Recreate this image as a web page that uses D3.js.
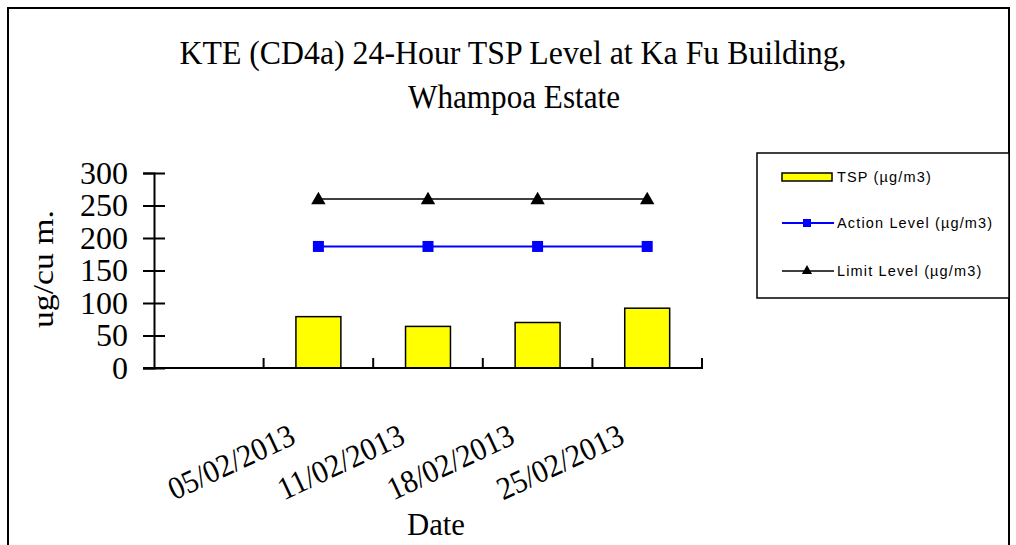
<!DOCTYPE html>
<html>
<head>
<meta charset="utf-8">
<script src="https://cdn.jsdelivr.net/npm/d3@7"></script>
<style>
  body { margin: 0; background: #fff; }
  svg { display: block; }
</style>
</head>
<body>
<script>

// DATA
//
var categories = ["", "05/02/2013", "11/02/2013", "18/02/2013", "25/02/2013"];
var tspValues = [null, 79, 64, 70, 92];
var actionLevel = [null, 187, 187, 187, 187];
var limitLevel = [null, 260, 260, 260, 260];
var yTicks = [0, 50, 100, 150, 200, 250, 300];

var titleLines = ["KTE (CD4a) 24-Hour TSP Level at Ka Fu Building,", "Whampoa Estate"];
var legendLabels = ["TSP (\u00b5g/m3)", "Action Level (\u00b5g/m3)", "Limit Level (\u00b5g/m3)"];

var width = 1016;
var height = 545;
var serif = "'Liberation Serif', 'Times New Roman', serif";
var sans = "'Liberation Sans', Arial, sans-serif";

var svg = d3.select("body").append("svg")
  .attr("width", width)
  .attr("height", height);

// OUTER FRAME
//
svg.append("rect")
  .attr("x", 8).attr("y", 8)
  .attr("width", 1001).attr("height", 560)
  .attr("fill", "#fff")
  .attr("stroke", "#000")
  .attr("stroke-width", 2);

// SCALES
//
var x = d3.scaleBand()
  .domain(categories)
  .range([154, 702])
  .padding(0);

var y = d3.scaleLinear()
  .domain([0, 300])
  .range([368, 173]);

function cx(d) { return x(d) + x.bandwidth() / 2; }

// TITLE (narrow, tall glyphs like the original)
//
svg.append("text")
  .attr("x", 513).attr("y", 64)
  .attr("text-anchor", "middle")
  .attr("font-family", serif)
  .attr("font-size", 34)
  .attr("textLength", 667)
  .attr("lengthAdjust", "spacingAndGlyphs")
  .text(titleLines[0]);

svg.append("text")
  .attr("x", 514).attr("y", 108)
  .attr("text-anchor", "middle")
  .attr("font-family", serif)
  .attr("font-size", 34)
  .attr("textLength", 212)
  .attr("lengthAdjust", "spacingAndGlyphs")
  .text(titleLines[1]);

// BARS
//
var barW = x.bandwidth() * 0.41;
var barData = categories.map(function(c, i) { return { cat: c, v: tspValues[i] }; })
  .filter(function(d) { return d.v != null; });

svg.selectAll(".bar").data(barData).enter().append("rect")
  .attr("class", "bar")
  .attr("x", function(d) { return cx(d.cat) - barW / 2; })
  .attr("y", function(d) { return y(d.v); })
  .attr("width", barW)
  .attr("height", function(d) { return y(0) - y(d.v); })
  .attr("fill", "#ffff00")
  .attr("stroke", "#000")
  .attr("stroke-width", 1.5);

// Y AXIS (ticks cross the axis line)
//
var yAxis = svg.append("g")
  .attr("transform", "translate(154,0)")
  .call(d3.axisLeft(y).tickValues(yTicks).tickSizeOuter(0).tickSize(11).tickPadding(15));

yAxis.select(".domain").attr("stroke-width", 2);
yAxis.selectAll(".tick line").attr("x1", 11).attr("stroke-width", 2);
yAxis.selectAll(".tick text")
  .attr("font-family", serif)
  .attr("font-size", 32)
  .attr("fill", "#000");

// X AXIS
//
svg.append("line")
  .attr("x1", 143).attr("x2", 703)
  .attr("y1", y(0)).attr("y2", y(0))
  .attr("stroke", "#000")
  .attr("stroke-width", 2);

var bounds = categories.map(function(c) { return x(c); }).concat([x.range()[1]]);
svg.selectAll(".xtick").data(bounds.slice(1)).enter().append("line")
  .attr("class", "xtick")
  .attr("x1", function(d) { return d; })
  .attr("x2", function(d) { return d; })
  .attr("y1", y(0))
  .attr("y2", y(0) - 10)
  .attr("stroke", "#000")
  .attr("stroke-width", 2);

svg.selectAll(".xlabel").data(categories.filter(function(c) { return c !== ""; })).enter().append("text")
  .attr("class", "xlabel")
  .attr("transform", function(d) { return "translate(" + (cx(d) - 21) + ",443) rotate(-25)"; })
  .attr("text-anchor", "end")
  .attr("font-family", serif)
  .attr("font-size", 32)
  .attr("textLength", 136)
  .attr("lengthAdjust", "spacingAndGlyphs")
  .text(function(d) { return d; });

// AXIS TITLES
//
svg.append("text")
  .attr("x", 436).attr("y", 535)
  .attr("text-anchor", "middle")
  .attr("font-family", serif)
  .attr("font-size", 31)
  .attr("textLength", 58)
  .attr("lengthAdjust", "spacingAndGlyphs")
  .text("Date");

svg.append("text")
  .attr("transform", "translate(53,269) rotate(-90)")
  .attr("text-anchor", "middle")
  .attr("font-family", serif)
  .attr("font-size", 30)
  .attr("textLength", 118)
  .attr("lengthAdjust", "spacingAndGlyphs")
  .text("ug/cu m.");

// LINES + MARKERS
//
function series(vals) {
  return categories.map(function(c, i) { return { cat: c, v: vals[i] }; })
    .filter(function(d) { return d.v != null; });
}

var line = d3.line()
  .x(function(d) { return cx(d.cat); })
  .y(function(d) { return y(d.v); });

var actionData = series(actionLevel);
var limitData = series(limitLevel);

svg.append("path")
  .datum(actionData)
  .attr("d", line)
  .attr("fill", "none")
  .attr("stroke", "#0000ff")
  .attr("stroke-width", 2);

svg.selectAll(".sq").data(actionData).enter().append("rect")
  .attr("class", "sq")
  .attr("x", function(d) { return cx(d.cat) - 5.5; })
  .attr("y", function(d) { return y(d.v) - 5.5; })
  .attr("width", 11).attr("height", 11)
  .attr("fill", "#0000ff");

svg.append("path")
  .datum(limitData)
  .attr("d", line)
  .attr("fill", "none")
  .attr("stroke", "#000")
  .attr("stroke-width", 1.5);

var tri = d3.symbol().type(d3.symbolTriangle).size(90);
svg.selectAll(".tri").data(limitData).enter().append("path")
  .attr("class", "tri")
  .attr("d", tri)
  .attr("transform", function(d) { return "translate(" + cx(d.cat) + "," + (y(d.v) + 1) + ")"; })
  .attr("fill", "#000");

// LEGEND
//
var legend = svg.append("g");
legend.append("rect")
  .attr("x", 757).attr("y", 153)
  .attr("width", 252).attr("height", 145)
  .attr("fill", "#fff")
  .attr("stroke", "#000")
  .attr("stroke-width", 1.5);

var rowY = [177, 223, 271];

legend.append("rect")
  .attr("x", 782).attr("y", rowY[0] - 4)
  .attr("width", 50).attr("height", 8)
  .attr("fill", "#ffff00")
  .attr("stroke", "#000")
  .attr("stroke-width", 1.5);

legend.append("line")
  .attr("x1", 782).attr("x2", 834)
  .attr("y1", rowY[1]).attr("y2", rowY[1])
  .attr("stroke", "#0000ff").attr("stroke-width", 2);
legend.append("rect")
  .attr("x", 803).attr("y", rowY[1] - 4)
  .attr("width", 8).attr("height", 8)
  .attr("fill", "#0000ff");

legend.append("line")
  .attr("x1", 782).attr("x2", 834)
  .attr("y1", rowY[2]).attr("y2", rowY[2])
  .attr("stroke", "#000").attr("stroke-width", 1.5);
legend.append("path")
  .attr("d", d3.symbol().type(d3.symbolTriangle).size(45))
  .attr("transform", "translate(807," + (rowY[2]) + ")")
  .attr("fill", "#000");

legend.selectAll(".ltxt").data(legendLabels).enter().append("text")
  .attr("class", "ltxt")
  .attr("x", 837)
  .attr("y", function(d, i) { return rowY[i] + 5; })
  .attr("font-family", sans)
  .attr("font-size", 14.5)
  .attr("letter-spacing", 1.15)
  .text(function(d) { return d; });

</script>
</body>
</html>
